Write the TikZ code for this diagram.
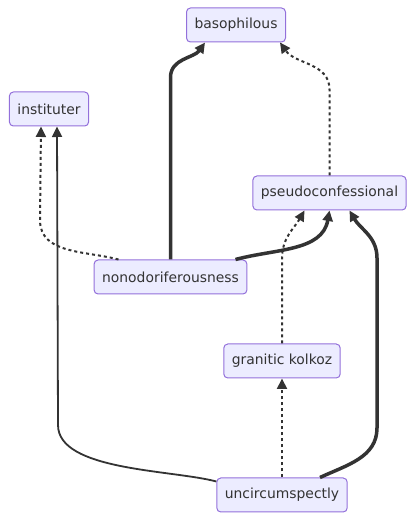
\documentclass[tikz,border=0pt]{standalone}
\usepackage{fontspec}
\setmainfont{DejaVu Sans}
\usepackage{tikz}
\usetikzlibrary{arrows.meta, positioning}
\definecolor{darkgray}{HTML}{333333}
\definecolor{nodefill}{HTML}{ECECFF}
\definecolor{nodeborder}{HTML}{9370DB}
\tikzset{
  nodebox/.style={rounded corners=4pt, minimum height=34pt, inner xsep=8pt,
                  draw=nodeborder, fill=nodefill, line width=1pt, text=darkgray,
                  font=\fontsize{13.9}{16}\selectfont},
  linkarrow/.style={-{Triangle[length=10.5pt, width=10pt]}, darkgray, line width=1.8pt},
  thicklink/.style={linkarrow, line width=3.5pt},
  dottedlink/.style={linkarrow, line width=2pt, dash pattern=on 3pt off 3pt},
}

\begin{document}
\begin{tikzpicture}[x=1pt, y=1pt]
  \useasboundingbox (0,0) rectangle (414,520);
  \node[nodebox] (baso) at (236, 495) {basophilous};
  \node[nodebox] (inst) at (49, 411) {instituter};
  \node[nodebox] (pseudo) at (329.5, 327) {pseudoconfessional};
  \node[nodebox] (nonodo) at (170.5, 243) {nonodoriferousness};
  \node[nodebox] (granitic) at (282, 159) {granitic kolkoz};
  \node[nodebox] (uncirc) at (282, 25) {uncircumspectly};

  \draw[thicklink] (nonodo.north) -- ++(0,182) to[out=90, in=-125] ([xshift=-31pt]baso.south);
  \draw[dottedlink] (pseudo.north) -- ++(0,86) to[out=90, in=-55] ([xshift=44pt]baso.south);
  \draw[dottedlink] ([xshift=-52pt]nonodo.north) to[out=165, in=-90] (40,300) -- ([xshift=-8pt]inst.south);
  \draw[linkarrow] ([yshift=-4pt]uncirc.north west) to[out=165, in=-90, looseness=0.7] (58,95) -- ([xshift=8pt]inst.south);
  \draw[thicklink] ([xshift=65pt]nonodo.north) to[out=15, in=-100] (pseudo.south);
  \draw[dottedlink] (granitic.north) -- ++(0,85) to[out=90, in=-120] ([xshift=-25pt]pseudo.south);
  \draw[thicklink] ([xshift=38pt]uncirc.north) to[out=25, in=-90] (377,92) -- (377,262) to[out=90, in=-60] ([xshift=20pt]pseudo.south);
  \draw[dottedlink] (uncirc.north) -- (granitic.south);
\end{tikzpicture}
\end{document}
